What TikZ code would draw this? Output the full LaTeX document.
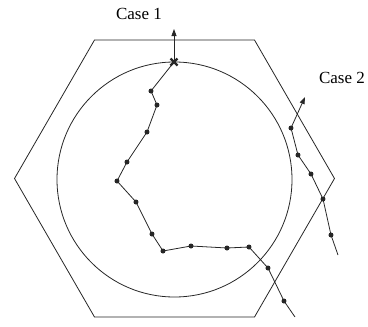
\documentclass[tikz,border=0pt]{standalone}
\usepackage{fontspec}
\setmainfont{Liberation Serif}
\usetikzlibrary{arrows.meta,calc}
\begin{document}
\begin{tikzpicture}[x=1pt,y=-1pt,
  line/.style={draw=black!85,line width=0.8pt},
  dot/.style={circle,fill=black!85,inner sep=0pt,minimum size=5pt},
  lbl/.style={font=\fontsize{17}{19}\selectfont,anchor=base,inner sep=0pt},
  arr/.style={line,-{Triangle[length=7pt,width=5pt]}}]
\useasboundingbox (0,0) rectangle (368,327);
% hexagon
\draw[line] (14.5,178.5) -- (94.5,40) -- (254.5,40) -- (334.5,178.5) -- (254.5,317) -- (94.5,317) -- cycle;
% circle
\node[line,circle,minimum size=235pt,inner sep=0pt] (C) at (174.5,179.5) {};
% case 1 path
\coordinate (s) at (174,62);
\node[dot] (a1) at (151,91) {};
\node[dot] (a2) at (157,105) {};
\node[dot] (a3) at (147,132) {};
\node[dot] (a4) at (127,162) {};
\node[dot] (a5) at (117,181) {};
\node[dot] (a6) at (136,202) {};
\node[dot] (a7) at (152,234) {};
\node[dot] (a8) at (163,251) {};
\node[dot] (a9) at (191,246) {};
\node[dot] (a10) at (227,248) {};
\node[dot] (a11) at (249,247) {};
\node[dot] (a12) at (268,268) {};
\node[dot] (a13) at (284,301) {};
\coordinate (aend) at (295,317);
\draw[line] (s) -- (a1.center) -- (a2.center) -- (a3.center) -- (a4.center) -- (a5.center) -- (a6.center) -- (a7.center) -- (a8.center) -- (a9.center) -- (a10.center) -- (a11.center) -- (a12.center) -- (a13.center) -- (aend);
\coordinate (t1) at (174,29);
\draw[arr] (s) -- (t1);
\draw[black!85,line width=2.4pt] ($(s)+(-3.5,-3.5)$) -- ($(s)+(3.5,3.5)$) ($(s)+(-3.5,3.5)$) -- ($(s)+(3.5,-3.5)$);
\node[lbl] (L1) at (139,19) {Case 1};
% case 2 path
\node[dot] (b1) at (291,128) {};
\node[dot] (b2) at (298,155) {};
\node[dot] (b3) at (311,174) {};
\node[dot] (b4) at (323,199) {};
\node[dot] (b5) at (331,235) {};
\coordinate (bend) at (338,255);
\coordinate (t2) at (305,97);
\draw[line] (bend) -- (b5.center) -- (b4.center) -- (b3.center) -- (b2.center) -- (b1.center);
\draw[arr] (b1.center) -- (t2);
\node[lbl] (L2) at (342,83) {Case 2};
\end{tikzpicture}
\end{document}
